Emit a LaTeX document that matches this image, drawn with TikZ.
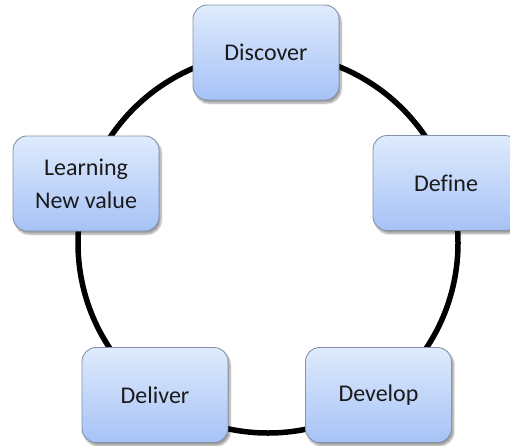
\documentclass[tikz,border=0pt]{standalone}
\usepackage{fontspec}
\setmainfont[Ligatures=NoCommon]{Carlito}
\usetikzlibrary{shadows.blur}
\definecolor{boxtop}{HTML}{DFEBFD}
\definecolor{boxbot}{HTML}{A6C2F6}
\definecolor{boxedge}{HTML}{8592A8}
\definecolor{txt}{HTML}{1A1A1A}
\tikzset{
  stagebox/.style={rectangle, rounded corners=14pt, minimum width=146pt, minimum height=95pt,
    draw=boxedge, line width=0.9pt, top color=boxtop, bottom color=boxbot,
    blur shadow={shadow xshift=2pt, shadow yshift=-3pt, shadow blur steps=6, shadow opacity=40},
    font=\fontsize{24}{33}\selectfont, text=txt, align=center, inner sep=0pt},
  ring/.style={circle, draw=black, line width=5.5pt, minimum size=380pt, inner sep=0pt}
}
\begin{document}
\begin{tikzpicture}[x=1pt,y=-1pt]
\useasboundingbox (0,0) rectangle (510,445);
\coordinate (c) at (268,243);
\node[ring] (cyc) at (c) {};
\node[stagebox] (discover) at (266,52.5) {Discover};
\node[stagebox] (define) at (446,183) {Define};
\node[stagebox] (learning) at (86,183.5) {Learning\\New value};
\node[stagebox] (deliver) at (155,395) {Deliver};
\node[stagebox] (develop) at (378.5,395) {Develop};
\end{tikzpicture}
\end{document}
